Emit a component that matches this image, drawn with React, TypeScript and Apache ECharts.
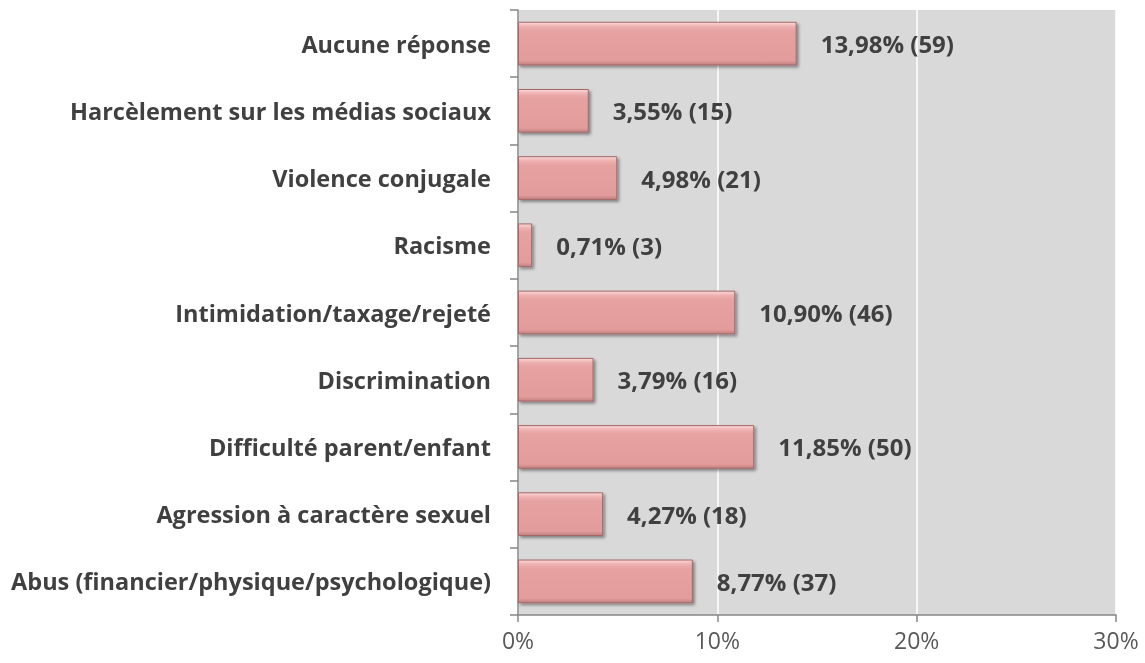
import React, { useEffect, useRef } from "react";
import * as echarts from "echarts";

const categories = [
  "Abus (financier/physique/psychologique)",
  "Agression à caractère sexuel",
  "Difficulté parent/enfant",
  "Discrimination",
  "Intimidation/taxage/rejeté",
  "Racisme",
  "Violence conjugale",
  "Harcèlement sur les médias sociaux",
  "Aucune réponse",
];
const percents = [8.77, 4.27, 11.85, 3.79, 10.9, 0.71, 4.98, 3.55, 13.98];
const counts = [37, 18, 50, 16, 46, 3, 21, 15, 59];
const xTicks = [0, 10, 20, 30];

export default function App() {
  const ref = useRef<HTMLDivElement>(null);
  useEffect(() => {
    if (!ref.current) return;
    const chart = echarts.init(ref.current, null, { renderer: "svg" });
    const font = "'Open Sans', 'Liberation Sans', sans-serif";
    chart.setOption({
      animation: false,
      grid: {
        left: 518,
        right: 29,
        top: 10,
        bottom: 48,
        show: true,
        backgroundColor: "#d9d9d9",
        borderWidth: 0,
      },
      xAxis: {
        type: "value",
        min: xTicks[0],
        max: xTicks[xTicks.length - 1],
        interval: 10,
        axisLine: { show: true, lineStyle: { color: "#868686", width: 1.5 } },
        axisTick: { show: true, length: 7, lineStyle: { color: "#868686", width: 1.5 } },
        splitLine: { show: true, lineStyle: { color: "#ffffff", width: 1.5 } },
        axisLabel: {
          formatter: (v: number) => `${v}%`,
          color: "#595959",
          fontSize: 23,
          fontFamily: font,
          margin: 13,
        },
      },
      yAxis: {
        type: "category",
        data: categories,
        axisLine: { show: true, lineStyle: { color: "#868686", width: 1.5 } },
        axisTick: { show: true, length: 8, lineStyle: { color: "#868686", width: 1.5 } },
        axisLabel: {
          color: "#404040",
          fontWeight: "bold",
          fontSize: 23.5,
          fontFamily: font,
          margin: 27,
        },
      },
      series: [
        {
          type: "bar",
          data: percents,
          barCategoryGap: "35%",
          itemStyle: {
            color: new echarts.graphic.LinearGradient(0, 0, 0, 1, [
              { offset: 0, color: "#fbd8d8" },
              { offset: 0.1, color: "#eeb0b0" },
              { offset: 0.2, color: "#e6a1a1" },
              { offset: 0.9, color: "#e39c9c" },
              { offset: 1, color: "#c08080" },
            ]),
            borderColor: "#a46868",
            borderWidth: 1,
            shadowColor: "rgba(0,0,0,0.4)",
            shadowBlur: 3,
            shadowOffsetX: 2,
            shadowOffsetY: 2,
          },
          label: {
            show: true,
            position: "right",
            distance: 24,
            color: "#404040",
            fontWeight: "bold",
            fontSize: 24,
            fontFamily: font,
            formatter: (p: any) =>
              `${percents[p.dataIndex].toFixed(2).replace(".", ",")}% (${counts[p.dataIndex]})`,
          },
        },
      ],
    });
    return () => chart.dispose();
  }, []);
  return (
    <div
      ref={ref}
      style={{ position: "fixed", left: 0, top: 0, width: 1145, height: 663 }}
    />
  );
}
